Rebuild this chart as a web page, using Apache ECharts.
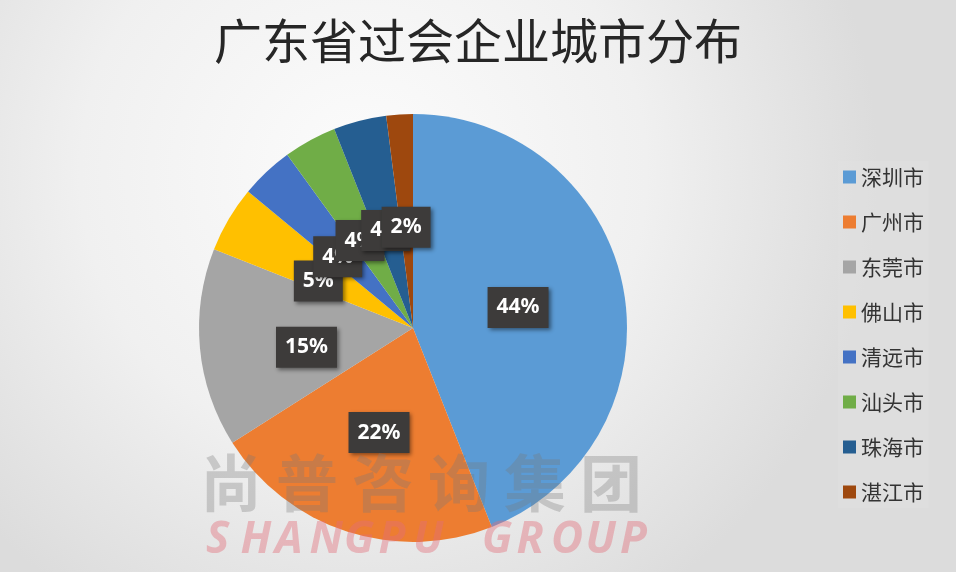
<!DOCTYPE html>
<html>
<head>
<meta charset="utf-8">
<script src="https://cdn.jsdelivr.net/npm/echarts@6/dist/echarts.min.js"></script>
<style>html,body{margin:0;padding:0;}#c{width:956px;height:572px;}</style>
</head>
<body>
<div id="c"></div>
<script>
const titleText = '广东省过会企业城市分布';
const cities = ['深圳市', '广州市', '东莞市', '佛山市', '清远市', '汕头市', '珠海市', '湛江市'];
const shares = [44, 22, 15, 5, 4, 4, 4, 2];
const colors = ['#5B9BD5', '#ED7D31', '#A5A5A5', '#FFC000', '#4472C4', '#70AD47', '#255E91', '#9E480E'];
const watermarkCn = ['尚', '普', '咨', '询', '集', '团'];
const watermarkEn = 'SHANGPU GROUP';

const graphics = [];
watermarkCn.forEach((ch, i) => {
  graphics.push({
    type: 'text', left: 200 + i * 76, top: 452, z: 100,
    style: { text: ch, font: 'bold 62px "Noto Sans CJK SC"', fill: 'rgba(120,120,120,0.32)' }
  });
});
watermarkEn.split('').forEach((ch, i) => {
  if (ch === ' ') return;
  graphics.push({
    type: 'text', left: 206 + i * 34.5, top: 518, z: 100,
    style: { text: ch, font: 'italic bold 44px "Noto Sans"', fill: 'rgba(226,110,122,0.42)' }
  });
});

const chart = echarts.init(document.getElementById('c'));
chart.setOption({
  backgroundColor: {
    type: 'radial', x: 0.38, y: 0.3, r: 0.9,
    colorStops: [{ offset: 0, color: '#fcfcfc' }, { offset: 0.55, color: '#f0f0f0' }, { offset: 1, color: '#dcdcdc' }]
  },
  title: {
    text: titleText, left: 'center', top: 12,
    textStyle: { fontFamily: '"Noto Sans CJK SC"', fontWeight: 'normal', fontSize: 48, color: '#262626' }
  },
  color: colors,
  legend: {
    orient: 'vertical', left: 838, top: 161,
    itemWidth: 13, itemHeight: 13, itemGap: 23, icon: 'rect',
    backgroundColor: 'rgba(255,255,255,0.06)',
    textStyle: { fontFamily: '"Noto Sans CJK SC"', fontSize: 21, lineHeight: 22, color: '#333' },
    data: cities
  },
  graphic: graphics,
  series: [{
    type: 'pie',
    center: [413, 328],
    radius: 214,
    startAngle: 90,
    clockwise: true,
    animation: false,
    avoidLabelOverlap: false,
    labelLayout: function (p) {
      if (p.dataIndex === 0) return { hideOverlap: false, dx: -3 };
      if (p.dataIndex >= 2) return { hideOverlap: false, dy: 9, dx: p.dataIndex === 2 ? 3 : 0 };
      return { hideOverlap: false };
    },
    itemStyle: { borderWidth: 0 },
    label: {
      show: true, position: 'inside',
      formatter: p => p.value + '%',
      color: '#fff', fontWeight: 'bold', fontSize: 21,
      fontFamily: '"Noto Sans", sans-serif',
      backgroundColor: '#3d3b3a', padding: [10, 9],
      shadowBlur: 4, shadowColor: 'rgba(0,0,0,0.45)', shadowOffsetX: 2, shadowOffsetY: 2
    },
    labelLine: { show: false },
    emphasis: { disabled: true },
    data: cities.map((c, i) => ({ name: c, value: shares[i] }))
  }]
});
</script>
</body>
</html>
